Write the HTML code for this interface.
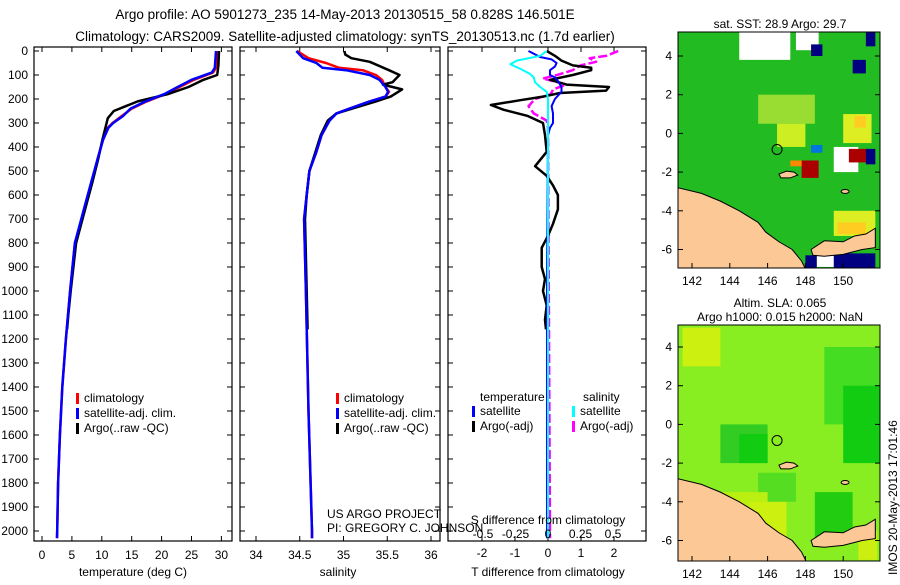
<!DOCTYPE html>
<html><head><meta charset="utf-8"><style>
body{margin:0;background:#fff;}
svg text{font-family:"Liberation Sans",sans-serif;fill:#000;}
</style></head><body>
<svg id="fig" width="900" height="580" viewBox="0 0 900 580" xmlns="http://www.w3.org/2000/svg">
<text x="345" y="19" font-size="13.5" text-anchor="middle">Argo profile: AO 5901273_235 14-May-2013 20130515_58 0.828S 146.501E</text>
<text x="345" y="41" font-size="13.5" text-anchor="middle">Climatology: CARS2009. Satellite-adjusted climatology: synTS_20130513.nc (1.7d earlier)</text>
<g id="p1"></g>
<g id="p2"></g>
<g id="p3"></g>
<g id="maps"></g>
<text x="327" y="518" font-size="12">US ARGO PROJECT</text>
<text x="327" y="532" font-size="12">PI: GREGORY C. JOHNSON</text>
<text font-size="12" transform="translate(897,575) rotate(-90)">IMOS 20-May-2013 17:01:46</text>
</svg>
<script>
// ---------- data ----------
const depthTicks=[0,100,200,300,400,500,600,700,800,900,1000,1100,1200,1300,1400,1500,1600,1700,1800,1900,2000];
const tTicks=[0,5,10,15,20,25,30];
const sTicks=[34,34.5,35,35.5,36];
const tdTicks=[-2,-1,0,1,2];
const sdTicks=[-0.5,-0.25,0,0.25,0.5];
const sdTickLabels=["-0.5","-0.25","0","0.25","0.5"];
const profDepth=[0,70,90,120,150,180,210,240,270,300,320,370,450,550,650,800,1000,1200,1400,1600,1800,2000,2030];
const tempSat=[29.1,28.9,28.4,25,22.7,20.4,17.3,14.8,13.6,11.9,11.1,10.2,9.3,8.2,7.1,5.5,4.7,4.0,3.4,3.0,2.7,2.55,2.5];
const tempClim=[29.4,29.1,28.6,25.4,23,20.6,17.5,15,13.4,11.8,11.0,10.2,9.3,8.3,7.2,5.5,4.7,4.0,3.4,3.0,2.7,2.55,2.5];
const argoDepth=[0,60,100,120,150,180,210,230,250,280,300,320,370,450,550,650,800,1000,1100,1160];
const tempArgo=[29.6,29.5,29.3,27,24.5,21,16,14,12,11,10.8,10.6,10.1,9.4,8.4,7.3,5.7,4.8,4.4,4.2];
const salDepth=[0,30,50,70,80,100,120,150,170,190,210,240,260,290,350,420,500,600,700,1000,1500,2000,2030];
const salSat=[34.46,34.54,34.69,34.76,35.03,35.30,35.41,35.48,35.51,35.48,35.30,35.07,34.92,34.84,34.75,34.69,34.61,34.58,34.55,34.57,34.60,34.64,34.64];
const salClim=[34.47,34.60,34.80,34.95,35.22,35.37,35.44,35.48,35.52,35.48,35.30,35.07,34.92,34.84,34.75,34.69,34.61,34.58,34.55,34.57,34.60,34.64,34.64];
const salArgoDepth=[0,15,30,45,80,100,130,140,160,190,210,240,260,290,350,420,500,600,700,1000,1160];
const salArgo=[35.01,35.02,35.09,35.30,35.52,35.64,35.56,35.45,35.67,35.54,35.37,35.10,34.92,34.82,34.74,34.68,34.61,34.58,34.56,34.58,34.59];
const tdSatDepth=[0,10,25,35,50,65,80,100,110,125,150,170,200,230,260,300,320,350,1000,2030];
const tdSat=[-0.59,-0.45,-0.24,0.11,0.26,0.21,0.06,0.06,0.21,0.30,0.41,0.41,0.21,0.11,0.15,0.15,0.06,0,-0.03,-0.03];
const sdSatDepth=[0,20,40,55,75,95,110,130,150,170,200,2030];
const sdSat=[-0.01,-0.06,-0.24,-0.29,-0.21,-0.14,-0.11,-0.10,-0.06,-0.01,0,0];
const tdArgoDepth=[0,20,40,60,70,80,100,120,140,150,165,175,190,205,225,245,270,300,350,420,480,520,560,600,660,720,770,820,900,950,1000,1060,1120,1160];
const tdArgo=[-0.04,0.21,0.41,0.75,1.31,1.31,0.75,0.06,0.56,1.85,1.76,0.36,-0.15,-0.84,-1.73,-1.34,-0.63,-0.15,-0.09,-0.04,-0.39,-0.04,0.15,0.30,0.30,0.15,0,-0.19,-0.19,-0.09,-0.15,-0.04,-0.09,-0.06];
const sdArgoDepth=[0,20,30,45,60,80,100,115,125,140,160,180,200,230,260,290,320,2030];
const sdArgo=[0.54,0.45,0.32,0.37,0.25,0.19,0.07,-0.04,0.04,0.14,0.04,0.02,-0.10,-0.15,-0.11,-0.01,0,0.015];

const NS='http://www.w3.org/2000/svg';
function mk(tag,attrs,parent){const e=document.createElementNS(NS,tag);for(const k in attrs)e.setAttribute(k,attrs[k]);parent.appendChild(e);return e;}
const Y0=51,YS=0.24,TOP=47,BOT=541;
const yD=d=>Y0+d*YS;

function frame(g,x0,x1,xt,xs,labels,name){
  const r=mk('rect',{x:x0,y:TOP,width:x1-x0,height:BOT-TOP,fill:'none',stroke:'#000','stroke-width':1.2},g);
  
  
  depthTicks.forEach(d=>{
    mk('line',{x1:x0,x2:x0+5,y1:yD(d),y2:yD(d),stroke:'#000'},g);
    mk('line',{x1:x1,x2:x1-5,y1:yD(d),y2:yD(d),stroke:'#000'},g);
  });
  xt.forEach((v,i)=>{const x=xs(v);
    mk('line',{x1:x,x2:x,y1:BOT,y2:BOT-5,stroke:'#000'},g);
    mk('line',{x1:x,x2:x,y1:TOP,y2:TOP+5,stroke:'#000'},g);
    if(labels){const t=mk('text',{x:x,y:559,'font-size':12,'text-anchor':'middle'},g);t.textContent=labels[i];
      
      }
  });
}
function line(g,xs,vals,deps,color,w,name,dash){
  const pts=vals.map((v,i)=>xs(v).toFixed(1)+','+yD(deps[i]).toFixed(1)).join(' ');
  const p=mk('polyline',{points:pts,fill:'none',stroke:color,'stroke-width':w,'stroke-linejoin':'round'},g);
  if(dash)p.setAttribute('stroke-dasharray',dash);
  
  
}
function legend(g,x,y,items){
  items.forEach((it,i)=>{
    mk('rect',{x:x,y:y+i*15-9,width:3,height:11,fill:it[1]},g);
    const t=mk('text',{x:x+8,y:y+i*15,'font-size':12},g);t.textContent=it[0];
    
    
  });
}
const svg=document.getElementById('fig');
depthTicks.forEach(d=>{const t=mk('text',{x:28,y:yD(d)+4,'font-size':12,'text-anchor':'end'},svg);t.textContent=d;
  
  });

// panel 1
const g1=document.getElementById('p1');
const xT=v=>42+v*5.98;
frame(g1,34,232,tTicks,xT,tTicks.map(String),'temperature');
line(g1,xT,tempClim,profDepth,'#f00',2.5,'temp-climatology-line');
line(g1,xT,tempArgo,argoDepth,'#000',2.5,'temp-argo-line');
line(g1,xT,tempSat,profDepth,'#00f',2.5,'temp-satellite-line');
let t=mk('text',{x:133,y:576,'font-size':12,'text-anchor':'middle'},g1);t.textContent='temperature (deg C)';
legend(g1,76,402,[['climatology','#f00'],['satellite-adj. clim.','#00f'],['Argo(..raw -QC)','#000']]);

// panel 2
const g2=document.getElementById('p2');
const xS=v=>256+(v-34)*87.5;
frame(g2,240,440,sTicks,xS,['34','34.5','35','35.5','36'],'salinity');
line(g2,xS,salClim,salDepth,'#f00',2.5,'sal-climatology-line');
line(g2,xS,salArgo,salArgoDepth,'#000',2.5,'sal-argo-line');
line(g2,xS,salSat,salDepth,'#00f',2.5,'sal-satellite-line');
t=mk('text',{x:338,y:576,'font-size':12,'text-anchor':'middle'},g2);t.textContent='salinity';
legend(g2,336,402,[['climatology','#f00'],['satellite-adj. clim.','#00f'],['Argo(..raw -QC)','#000']]);

// panel 3
const g3=document.getElementById('p3');
const xTD=v=>548+v*33;
const xSD=v=>548+v*130;
frame(g3,448,646,tdTicks,xTD,null,'difference');
line(g3,xSD,sdArgo,sdArgoDepth,'#f0f',2.5,'sal-argo-diff-line','9,3');
line(g3,xTD,tdArgo,tdArgoDepth,'#000',2.5,'temp-argo-diff-line');
line(g3,xTD,tdSat,tdSatDepth,'#00f',2,'temp-satellite-diff-line');
line(g3,xSD,sdSat,sdSatDepth,'#0ff',2,'sal-satellite-diff-line');
sdTicks.forEach((v,i)=>{const tt=mk('text',{x:xSD(v),y:538,'font-size':12,'text-anchor':'middle'},g3);tt.textContent=sdTickLabels[i];
  
  });
tdTicks.forEach(v=>{const tt=mk('text',{x:xTD(v),y:557,'font-size':12,'text-anchor':'middle'},g3);tt.textContent=v;
  
  });
t=mk('text',{x:548,y:524,'font-size':12,'text-anchor':'middle'},g3);t.textContent='S difference from climatology';
t=mk('text',{x:548,y:576,'font-size':12,'text-anchor':'middle'},g3);t.textContent='T difference from climatology';
t=mk('text',{x:480,y:401,'font-size':12},g3);t.textContent='temperature';
t=mk('text',{x:583,y:401,'font-size':12},g3);t.textContent='salinity';
legend(g3,472,415,[['satellite','#00f'],['Argo(-adj)','#000']]);
legend(g3,572,415,[['satellite','#0ff'],['Argo(-adj)','#f0f']]);

// ---------- maps ----------
const gm=document.getElementById('maps');
const mx=lon=>692+(lon-142)*18.9;
function drawMap(top,bg,patches,title,ylab0){
  const my=lat=>ylab0+(4-lat)*19.35;
  const cid='c'+top;
  const cp=mk('clipPath',{id:cid},gm);mk('rect',{x:678,y:top,width:202,height:236},cp);
  const g=mk('g',{'clip-path':'url(#'+cid+')'},gm);
  mk('rect',{x:678,y:top,width:202,height:236,fill:bg},g);
  patches.forEach(p=>mk('rect',{x:mx(p[0]),y:my(p[1]),width:p[2]*18.9,height:p[3]*19.35,fill:p[4]},g));
  const coast=[[141,-2.75],[142.5,-3.1],[143.5,-3.5],[144.5,-4.0],[145.5,-4.6],[145.9,-5.1],[146.6,-5.6],[147.3,-6.0],[147.8,-6.6],[148.1,-7.2],[141,-7.2]];
  mk('polygon',{points:coast.map(c=>mx(c[0])+','+my(c[1])).join(' '),fill:'#fcc896',stroke:'#000','stroke-width':1},g);
  const nb=[[148.3,-6.0],[149,-5.55],[150,-5.6],[150.6,-5.3],[151.2,-5.2],[151.7,-4.9],[151.7,-5.9],[151,-6.0],[150,-6.25],[149,-6.35],[148.4,-6.3]];
  mk('polygon',{points:nb.map(c=>mx(c[0])+','+my(c[1])).join(' '),fill:'#fcc896',stroke:'#000','stroke-width':1},g);
  const man=[[146.6,-2.1],[147,-1.95],[147.4,-2.0],[147.6,-2.15],[147.2,-2.3],[146.7,-2.3]];
  mk('polygon',{points:man.map(c=>mx(c[0])+','+my(c[1])).join(' '),fill:'#fcc896',stroke:'#000','stroke-width':1},g);
  mk('ellipse',{cx:mx(150.1),cy:my(-3.0),rx:4,ry:2,fill:'#fcc896',stroke:'#000'},g);
  mk('circle',{cx:mx(146.5),cy:my(-0.83),r:5,fill:'none',stroke:'#000'},g);
  mk('rect',{x:678,y:top,width:202,height:236,fill:'none',stroke:'#000'},gm);
  [4,2,0,-2,-4,-6].forEach(l=>{
    mk('line',{x1:678,x2:683,y1:my(l),y2:my(l),stroke:'#000'},gm);
    mk('line',{x1:880,x2:875,y1:my(l),y2:my(l),stroke:'#000'},gm);
    const tt=mk('text',{x:672,y:my(l)+4,'font-size':12,'text-anchor':'end'},gm);tt.textContent=l;
    
    
  });
  [142,144,146,148,150].forEach(l=>{
    mk('line',{x1:mx(l),x2:mx(l),y1:top+236,y2:top+231,stroke:'#000'},gm);
    const tt=mk('text',{x:mx(l),y:top+253,'font-size':12,'text-anchor':'middle'},gm);tt.textContent=l;
    
    
  });
  title.forEach((s,i)=>{const tt=mk('text',{x:780,y:top-18+i*14-(title.length-1)*14+14,'font-size':12,'text-anchor':'middle'},gm);tt.textContent=s;
    
    });
}
drawMap(32,'#22bb22',[
 [144.5,5.3,2.7,1.5,'#fff'],[147.5,5.3,1.2,1,'#fff'],[148.3,4.6,0.6,0.6,'#000080'],[150.5,3.8,0.7,0.7,'#000080'],[151.2,5.3,0.5,0.8,'#000080'],
 [145.5,2,3,1.5,'#99dd33'],[146.5,0.5,1.5,1.2,'#ccee22'],[150,1,1.5,1.5,'#ddee22'],[150.6,0.9,0.6,0.6,'#ffcc22'],
 [148.3,-0.6,0.6,0.4,'#0077dd'],[149.5,-0.7,1.3,1.3,'#fff'],[150.3,-0.8,1,0.7,'#aa0000'],[147.8,-1.4,0.9,0.9,'#aa0000'],[147.2,-1.4,0.6,0.3,'#ff8800'],
 [151.2,-0.8,0.5,0.8,'#000080'],[149.5,-4,2.2,1.3,'#ddee22'],[149.7,-4.6,1.5,0.6,'#ffcc22'],[148.6,-5.9,1,1,'#fff'],[149.5,-6.2,2.2,0.8,'#000080'],[148,-6.3,0.6,0.8,'#000080']
],['sat. SST: 28.9 Argo: 29.7'],56);
drawMap(325,'#88ee22',[
 [141.5,5,2,2,'#ccf010'],[149,4,3,4,'#44dd22'],[150,2,2,4,'#11cc11'],[143.5,0,2.5,2,'#33cc22'],[144.5,-0.5,1.5,1.5,'#11cc11'],
 [145.5,-2.5,2,1.5,'#55dd22'],[143,-3.5,3,1.5,'#bbee11'],[145,-4,2,2,'#ccf010'],[148.5,-3.5,2,2.5,'#22cc11'],[150.8,-5.5,1,1.5,'#ccee11']
],['Altim. SLA: 0.065','Argo h1000: 0.015 h2000: NaN'],347);
</script>
</body></html>
